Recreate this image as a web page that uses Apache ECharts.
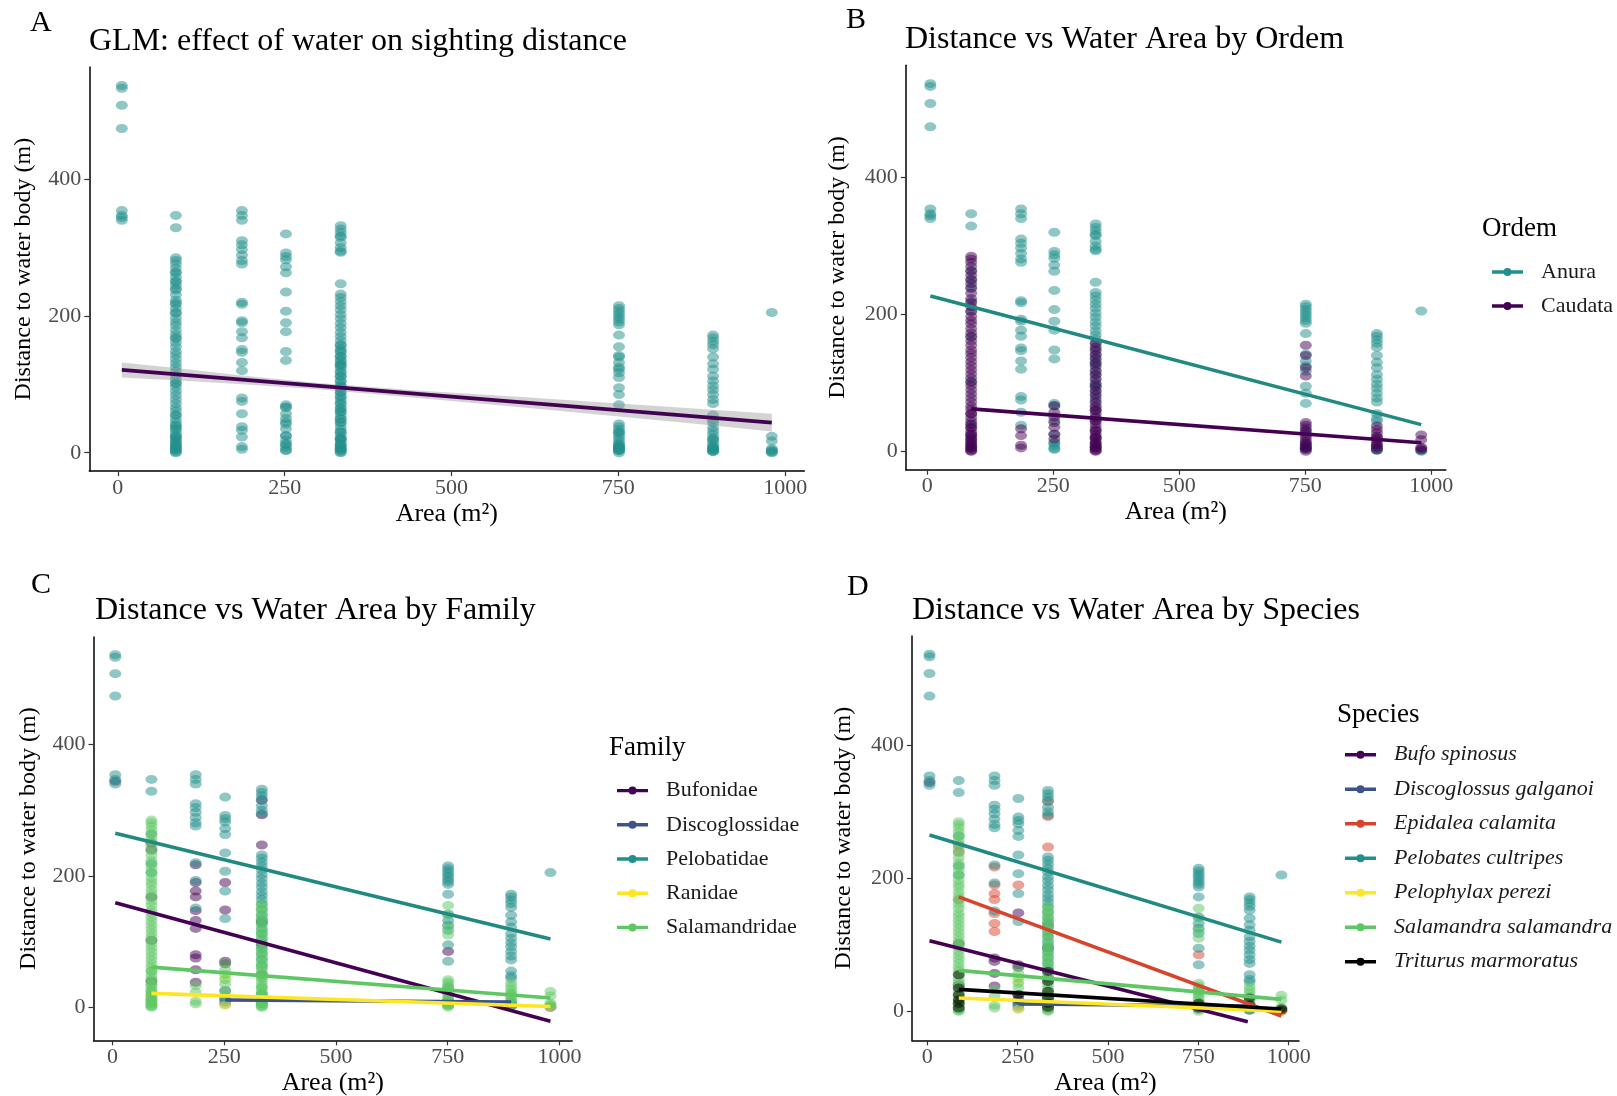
<!DOCTYPE html>
<html>
<head>
<meta charset="utf-8">
<title>Distance vs water area</title>
<script src="https://cdn.jsdelivr.net/npm/echarts@6.0.0/dist/echarts.min.js"></script>
<style>
  html, body { margin: 0; padding: 0; background: #fff; }
  #chart { width: 1617px; height: 1096px; }
</style>
</head>
<body>
<div id="chart"></div>
<script>
// tick labels
const xTicks = [0, 250, 500, 750, 1000];
const yTicks = [0, 200, 400];

// sightings per species: area of water body (m²) -> distances (m)
const bufoSpinosus = { 6: [344], 87: [102, 40], 186: [80, 75, 57, 38], 252: [148, 70, 66], 334: [95, 50], 751: [8], 892: [2] };
const discoglossusGalganoi = { 252: [25, 12, 8], 334: [10], 751: [9], 892: [7] };
const epidaleaCalamita = { 87: [250, 240, 168], 186: [217, 190, 177, 168, 147, 132, 120], 252: [190], 334: [315, 293, 247, 130], 751: [85], 980: [0] };
const pelobatesCultripes = {
  6: [537, 533, 508, 474, 354, 347, 340],
  87: [347, 329, 264, 219, 205],
  186: [354, 347, 340, 310, 304, 297, 289, 281, 276, 220, 193, 151],
  252: [320, 292, 287, 282, 272, 263, 235, 207, 177, 135, 13, 4],
  334: [332, 327, 322, 317, 307, 300, 295, 232, 227, 221, 215, 209, 202, 196, 189, 183, 176, 170, 164, 157, 149, 141, 134, 127, 119, 112, 104, 97, 89, 81, 73, 64, 20, 5],
  751: [215, 211, 207, 203, 199, 195, 191, 187, 172, 142, 132, 125, 117, 95, 70, 30, 3],
  892: [172, 168, 163, 158, 152, 140, 130, 122, 112, 105, 98, 92, 85, 78, 72, 55, 48, 44, 5, 2],
  980: [205]
};
const pelophylaxPerezi = { 87: [22, 8], 252: [45, 3], 751: [5], 980: [1] };
const salamandraSalamandra = {
  87: [285, 281, 276, 270, 263, 257, 251, 245, 238, 231, 223, 217, 211, 204, 197, 191, 186, 179, 173, 167, 161, 155, 148, 143, 137, 131, 125, 119, 113, 107, 101, 96, 90, 84, 78, 72, 66, 61, 55, 49, 44, 39, 34, 29, 24, 20, 16, 12, 9, 6, 3, 1, 0],
  186: [33, 23, 9, 5],
  252: [67, 57, 50, 42, 35],
  334: [158, 152, 147, 141, 136, 129, 124, 117, 112, 106, 99, 94, 88, 83, 77, 71, 66, 60, 55, 49, 44, 39, 34, 30, 25, 21, 17, 13, 9, 6, 3, 1, 0],
  751: [155, 140, 122, 110, 42, 38, 34, 30, 26, 22, 18, 14, 10, 6, 3, 0],
  892: [37, 32, 27, 22, 18, 14, 9, 5, 2],
  980: [24, 17, 6]
};
const triturusMarmoratus = { 87: [55, 35, 25, 17, 12, 5], 252: [25, 18], 334: [60, 45, 30, 20, 12, 6], 751: [12, 5], 892: [20, 10], 980: [4, 2] };

// fitted lines (end points)
const glmFit = [[6, 121], [980, 44]];
const glmUpper = [[6, 132], [87, 124], [186, 113], [300, 102], [450, 91], [600, 82], [751, 72], [892, 63], [980, 57]];
const glmLower = [[6, 110], [87, 106], [186, 100], [300, 93], [450, 80], [600, 67], [751, 53], [892, 40], [980, 31]];

const anuraFit = [[6, 227], [980, 39]];
const caudataFit = [[87, 62], [980, 12.5]];

const bufonidaeFit = [[6, 159], [980, -21.5]];
const discoglossidaeFit = [[252, 11], [892, 8]];
const pelobatidaeFit = [[6, 265], [980, 104]];
const ranidaeFit = [[87, 21], [980, 1]];
const salamandridaeFit = [[87, 61], [980, 14]];

const bufoFit = [[6, 106], [887, -15.8]];
const discoglossusFit = [[252, 11], [892, 8]];
const epidaleaFit = [[87, 172], [980, -7]];
const pelobatesFit = [[6, 265], [980, 104]];
const pelophylaxFit = [[87, 20], [980, 0]];
const salamandraFit = [[87, 61.5], [980, 18]];
const triturusFit = [[87, 33], [980, 3.5]];

// ---- helpers ----
const toPoints = (byArea) => {
  const pts = [];
  Object.keys(byArea).forEach(a => byArea[a].forEach(d => pts.push([Number(a), d])));
  return pts;
};
const merge = (...groups) => groups.reduce((acc, g) => acc.concat(toPoints(g)), []);

const serif = "'Liberation Serif', 'Times New Roman', serif";
const C = {
  purple: '#440154', blue: '#3B528B', teal: '#21908C', yellow: '#FDE725',
  green: '#5DC863', red: '#D7432C', black: '#000000'
};

const grids = [
  { left: 89.3, top: 67.1, width: 715, height: 404 },
  { left: 905.8, top: 65.3, width: 540, height: 404.4 },
  { left: 93.5, top: 636.9, width: 478.7, height: 403.4 },
  { left: 911.9, top: 635.9, width: 387.1, height: 404.4 }
];
const yRanges = [[-26.85, 563.85], [-26.85, 563.85], [-50.4, 564], [-43.6, 564.5]];
const xNameGap = [30, 29, 30, 30];
const yNameGap = [54, 56, 53, 56];

const xAxes = grids.map((g, i) => ({
  type: 'value', gridIndex: i, min: -42.7, max: 1028.7,
  name: 'Area (m²)', nameLocation: 'middle', nameGap: xNameGap[i],
  nameTextStyle: { fontFamily: serif, fontSize: 26, color: '#000' },
  axisLine: { show: true, onZero: false, lineStyle: { color: '#000', width: 1.5 } },
  axisTick: { show: true, customValues: xTicks, length: 5, lineStyle: { color: '#333', width: 1.2 } },
  axisLabel: { customValues: xTicks, formatter: v => String(v), color: '#4d4d4d', fontFamily: serif, fontSize: 22, margin: 6 },
  splitLine: { show: false }
}));
const yAxes = grids.map((g, i) => ({
  type: 'value', gridIndex: i, min: yRanges[i][0], max: yRanges[i][1],
  name: 'Distance to water body (m)', nameLocation: 'middle', nameGap: yNameGap[i],
  nameTextStyle: { fontFamily: serif, fontSize: 24, color: '#000' },
  axisLine: { show: true, onZero: false, lineStyle: { color: '#000', width: 1.5 } },
  axisTick: { show: true, customValues: yTicks, length: 5, lineStyle: { color: '#333', width: 1.2 } },
  axisLabel: { customValues: yTicks, formatter: v => String(v), color: '#4d4d4d', fontFamily: serif, fontSize: 22, margin: 8 },
  splitLine: { show: false }
}));

const scatter = (name, data, color, idx) => ({
  name, type: 'scatter', xAxisIndex: idx, yAxisIndex: idx, data,
  symbol: 'circle', symbolSize: [12, 9], silent: true, z: 2,
  itemStyle: { color, opacity: 0.5 }
});
const fitLine = (name, data, color, idx, width) => ({
  name, type: 'line', xAxisIndex: idx, yAxisIndex: idx, data,
  showSymbol: false, symbol: 'none', silent: true, z: 4,
  lineStyle: { color, width: width || 3.6 }
});

// panel groupings
const orders = [
  { name: 'Anura', color: C.teal, pts: merge(bufoSpinosus, discoglossusGalganoi, epidaleaCalamita, pelobatesCultripes, pelophylaxPerezi), fit: anuraFit },
  { name: 'Caudata', color: C.purple, pts: merge(salamandraSalamandra, triturusMarmoratus), fit: caudataFit }
];
const families = [
  { name: 'Bufonidae', color: C.purple, pts: merge(bufoSpinosus, epidaleaCalamita), fit: bufonidaeFit },
  { name: 'Discoglossidae', color: C.blue, pts: merge(discoglossusGalganoi), fit: discoglossidaeFit },
  { name: 'Pelobatidae', color: C.teal, pts: merge(pelobatesCultripes), fit: pelobatidaeFit },
  { name: 'Ranidae', color: C.yellow, pts: merge(pelophylaxPerezi), fit: ranidaeFit },
  { name: 'Salamandridae', color: C.green, pts: merge(salamandraSalamandra, triturusMarmoratus), fit: salamandridaeFit }
];
const species = [
  { name: 'Bufo spinosus', color: C.purple, pts: merge(bufoSpinosus), fit: bufoFit },
  { name: 'Discoglossus galganoi', color: C.blue, pts: merge(discoglossusGalganoi), fit: discoglossusFit },
  { name: 'Epidalea calamita', color: C.red, pts: merge(epidaleaCalamita), fit: epidaleaFit },
  { name: 'Pelobates cultripes', color: C.teal, pts: merge(pelobatesCultripes), fit: pelobatesFit },
  { name: 'Pelophylax perezi', color: C.yellow, pts: merge(pelophylaxPerezi), fit: pelophylaxFit },
  { name: 'Salamandra salamandra', color: C.green, pts: merge(salamandraSalamandra), fit: salamandraFit },
  { name: 'Triturus marmoratus', color: C.black, pts: merge(triturusMarmoratus), fit: triturusFit }
];

const allPoints = merge(bufoSpinosus, discoglossusGalganoi, epidaleaCalamita, pelobatesCultripes,
  pelophylaxPerezi, salamandraSalamandra, triturusMarmoratus);

const series = [];
// scatter first (legend picks up the first series with each name)
series.push(scatter('all sightings', allPoints, C.teal, 0));
[orders, families, species].forEach((groups, k) => {
  groups.forEach(g => series.push(scatter(g.name, g.pts, g.color, k + 1)));
});
// GLM confidence band
series.push({
  type: 'custom', xAxisIndex: 0, yAxisIndex: 0, silent: true, z: 3,
  data: [[0, 0]],
  renderItem: (params, api) => {
    const pts = glmUpper.map(p => api.coord(p))
      .concat(glmLower.slice().reverse().map(p => api.coord(p)));
    return { type: 'polygon', shape: { points: pts }, style: { fill: 'rgba(150,150,150,0.42)' } };
  }
});
series.push(fitLine('GLM', glmFit, C.purple, 0, 3.8));
[orders, families, species].forEach((groups, k) => {
  groups.forEach(g => series.push(fitLine(g.name, g.fit, g.color === C.teal ? '#1F8982' : g.color, k + 1)));
});

// key: thick bar with a dot, padded on the right so the text sits further out
const keyIcon = 'path://M0,3.3H31V6.7H0Z M11.5,5a4,4 0 1,1 8,0a4,4 0 1,1 -8,0Z M44,0V10';
const legend = (groups, left, top, gap, italic) => ({
  orient: 'vertical', left, top, itemGap: gap, itemWidth: 44, itemHeight: 10,
  icon: keyIcon, selectedMode: false,
  textStyle: { fontFamily: serif, fontSize: 22, lineHeight: 22, color: '#1a1a1a', fontStyle: italic ? 'italic' : 'normal' },
  data: groups.map(g => ({ name: g.name, itemStyle: { color: g.color, opacity: 1, borderWidth: 0 } }))
});

const label = (text, left, top, size) => ({
  text, left, top, padding: 0,
  textStyle: { fontFamily: serif, fontSize: size, fontWeight: 'normal', color: '#000' }
});

const option = {
  animation: false,
  backgroundColor: '#fff',
  title: [
    label('A', 30, 8, 30),
    label('GLM: effect of water on sighting distance', 89, 26, 32),
    label('B', 846, 5, 30),
    label('Distance vs Water Area by Ordem', 905, 24, 32),
    label('C', 31, 570, 30),
    label('Distance vs Water Area by Family', 95, 595, 32),
    label('D', 847, 572, 30),
    label('Distance vs Water Area by Species', 912, 595, 32),
    label('Ordem', 1482, 215, 27),
    label('Family', 609, 734, 27),
    label('Species', 1337, 701, 27)
  ],
  legend: [
    legend(orders, 1487, 256, 12, false),
    legend(families, 612, 774.6, 12.2, false),
    legend(species, 1340, 738.7, 12.5, true)
  ],
  grid: grids.map(g => Object.assign({ containLabel: false, outerBoundsMode: 'none' }, g)),
  xAxis: xAxes,
  yAxis: yAxes,
  series
};

const chart = echarts.init(document.getElementById('chart'));
chart.setOption(option);
</script>
</body>
</html>
